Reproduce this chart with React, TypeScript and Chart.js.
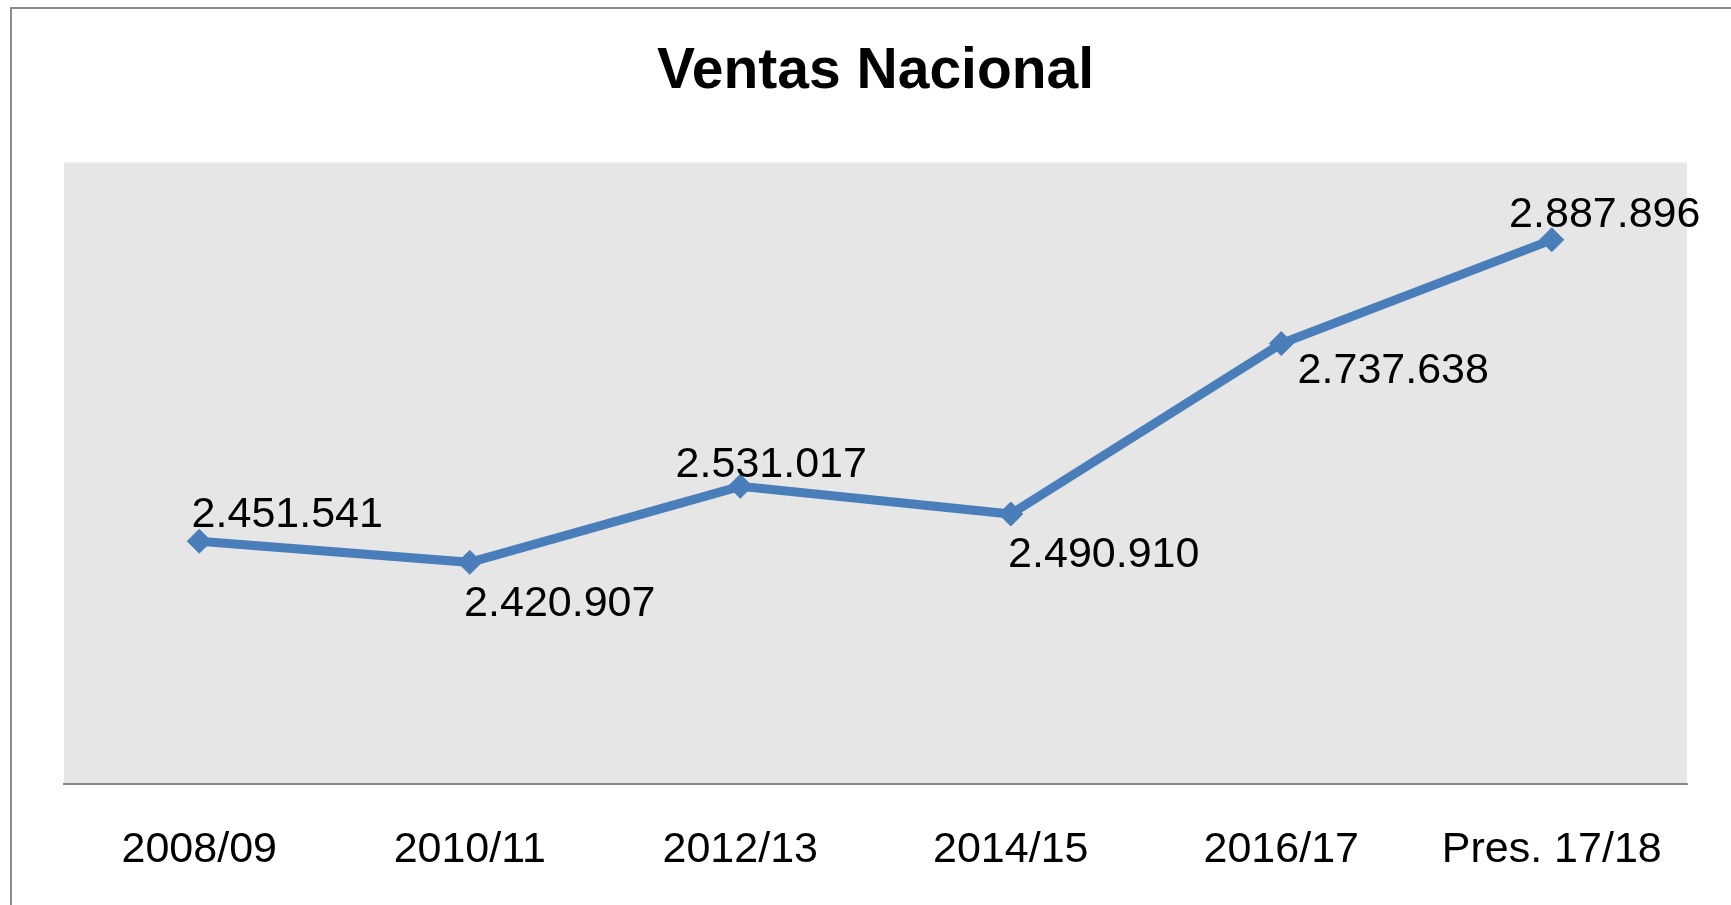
import React, { useEffect, useRef } from "react";
import { Chart, registerables } from "chart.js";

Chart.register(...registerables);

// ---- data ----
const categories = ["2008/09", "2010/11", "2012/13", "2014/15", "2016/17", "Pres. 17/18"];
const ventas = [2451541, 2420907, 2531017, 2490910, 2737638, 2887896];
const yMin = 2100000;
const yMax = 3000000;
const chartTitle = "Ventas Nacional";

// data-label placement relative to each point: [dx to label centre, dy to baseline]
const labelOffsets: number[][] = [
  [88, -14],
  [90, 54],
  [31, -9],
  [93, 53],
  [112, 39],
  [53, -13],
];

const FONT = "'Liberation Sans', Arial, sans-serif";
const LINE_BLUE = "#4a7ebb";

const fmt = (v: number) => String(v).replace(/\B(?=(\d{3})+(?!\d))/g, ".");

const framePlugin = {
  id: "frame",
  beforeDraw(chart: any) {
    const { ctx, width, height, chartArea } = chart;
    ctx.save();
    ctx.fillStyle = "#ffffff";
    ctx.fillRect(0, 0, width, height);
    ctx.strokeStyle = "#8c8c8c";
    ctx.lineWidth = 2;
    ctx.strokeRect(11, 8, width + 20, height + 20);
    ctx.fillStyle = "#e6e6e6";
    ctx.fillRect(chartArea.left, chartArea.top, chartArea.right - chartArea.left, chartArea.bottom - chartArea.top);
    ctx.restore();
  },
};

const labelPlugin = {
  id: "valueLabels",
  afterDatasetsDraw(chart: any) {
    const { ctx } = chart;
    const meta = chart.getDatasetMeta(0);
    ctx.save();
    ctx.fillStyle = "#000000";
    ctx.font = `43px ${FONT}`;
    ctx.textAlign = "center";
    ctx.textBaseline = "alphabetic";
    meta.data.forEach((pt: any, i: number) => {
      const off = labelOffsets[i] || [0, -14];
      ctx.fillText(fmt(ventas[i]), pt.x + off[0], pt.y + off[1]);
    });
    ctx.restore();
  },
};

export default function App() {
  const canvasRef = useRef<HTMLCanvasElement | null>(null);

  useEffect(() => {
    document.body.style.margin = "0";
    document.body.style.overflow = "hidden";
    const canvas = canvasRef.current;
    if (!canvas) return;
    const chart = new Chart(canvas, {
      type: "line",
      data: {
        labels: categories,
        datasets: [
          {
            label: chartTitle,
            data: ventas,
            borderColor: LINE_BLUE,
            backgroundColor: LINE_BLUE,
            borderWidth: 9,
            pointStyle: "rectRot",
            pointRadius: 12,
            pointBackgroundColor: LINE_BLUE,
            pointBorderColor: LINE_BLUE,
            pointBorderWidth: 1,
            tension: 0,
            clip: false as any,
          },
        ],
      },
      options: {
        responsive: true,
        maintainAspectRatio: false,
        animation: false,
        layout: { padding: { left: 64, right: 44, top: 0, bottom: 0 } },
        plugins: {
          legend: { display: false },
          tooltip: { enabled: false },
          title: {
            display: true,
            text: chartTitle,
            color: "#000000",
            font: { family: FONT, size: 57, weight: "bold" },
            padding: { top: 38, bottom: 56 },
          },
        },
        scales: {
          x: {
            offset: true,
            grid: { display: false, drawTicks: false },
            border: { display: true, color: "#878787", width: 2 },
            ticks: {
              color: "#000000",
              font: { family: FONT, size: 43 },
              padding: 40,
              maxRotation: 0,
              autoSkip: false,
            },
            afterFit: (s: any) => {
              s.height = 121;
            },
          },
          y: {
            display: false,
            min: yMin,
            max: yMax,
          },
        },
      },
      plugins: [framePlugin, labelPlugin],
    });
    return () => chart.destroy();
  }, []);

  return (
    <div style={{ width: 1731, height: 905, position: "relative" }}>
      <canvas ref={canvasRef} />
    </div>
  );
}
